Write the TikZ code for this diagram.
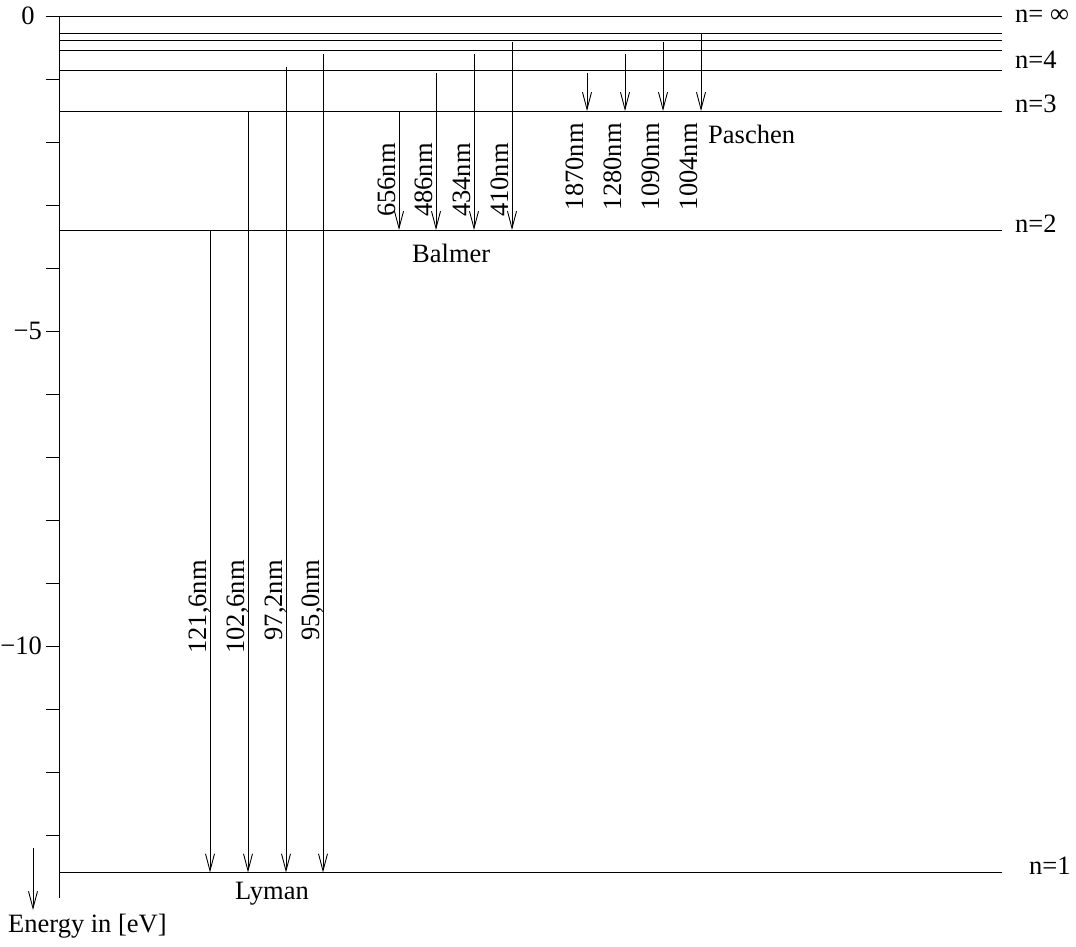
\documentclass[tikz,border=0pt]{standalone}
\usepackage{fontspec}
\setmainfont{Liberation Serif}
\usetikzlibrary{arrows.meta}

\begin{document}
\begin{tikzpicture}[x=1pt, y=-1pt,
  level/.style={line width=0.9pt},
  trans/.style={line width=0.9pt, -{Straight Barb[length=17pt, width=9pt, line width=0.9pt]}},
  lbl/.style={font=\fontsize{26.5}{30}\selectfont, inner sep=0pt},
  wl/.style={lbl, rotate=90, anchor=base east}
]
  \useasboundingbox (0,0) rectangle (1076,946);

  % energy axis
  \draw[level] (59,16) -- (59,898);
  \foreach \i in {0,...,13}
    \draw[level] (46,16+63*\i) -- (59,16+63*\i);
  \node[lbl] (e0) at (28,16) {0};
  \node[lbl, anchor=east] (e5) at (42,331) {−5};
  \node[lbl, anchor=east] (e10) at (42,646) {−10};
  \coordinate (etop) at (33,848);
  \coordinate (ebot) at (33,910);
  \draw[trans] (etop) -- (ebot);
  \node[lbl, anchor=base west] (energy) at (8,932) {Energy in [eV]};

  % levels
  \foreach \y in {16,33.5,40,50,70,111,230,872.5}
    \draw[level] (59,\y) -- (1002,\y);
  \node[lbl, anchor=base west] (ninf) at (1015,22) {n= ∞};
  \node[lbl, anchor=base west] (n4) at (1015,68) {n=4};
  \node[lbl, anchor=base west] (n3) at (1015,112) {n=3};
  \node[lbl, anchor=base west] (n2) at (1015,232) {n=2};
  \node[lbl, anchor=base west] (n1) at (1029,874) {n=1};

  % Lyman
  \foreach \x/\a/\t in {210/230/{121,6nm}, 248/111/{102,6nm}, 286/67/{97,2nm}, 323/54/{95,0nm}} {
    \draw[trans] (\x,\a) -- (\x,872.5);
    \node[wl] at (\x-4,560) {\t};
  }
  \node[lbl, anchor=base west] (lyman) at (235,899) {Lyman};

  % Balmer
  \foreach \x/\a/\t in {399/111/656nm, 436/73/486nm, 474/54/434nm, 512/42/410nm} {
    \draw[trans] (\x,\a) -- (\x,230);
    \node[wl] at (\x-4,143) {\t};
  }
  \node[lbl, anchor=base west] (balmer) at (412,262) {Balmer};

  % Paschen
  \foreach \x/\a/\t in {587/73/1870nm, 625/54/1280nm, 663/42/1090nm, 701/34/1004nm} {
    \draw[trans] (\x,\a) -- (\x,111);
    \node[wl] at (\x-4,123) {\t};
  }
  \node[lbl, anchor=base west] (paschen) at (708,143) {Paschen};
\end{tikzpicture}
\end{document}
